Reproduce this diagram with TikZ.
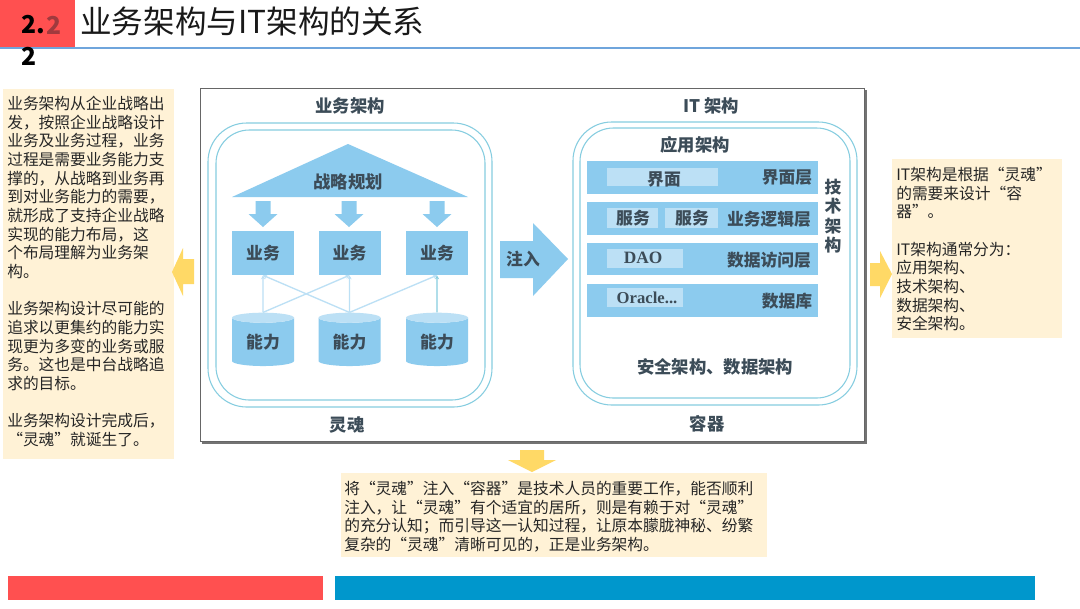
\documentclass[tikz,border=0pt]{standalone}
\usepackage{fontspec}
\setmainfont{Noto Sans CJK SC}
\newfontfamily\serifl{Liberation Serif}
\usetikzlibrary{shapes.geometric,arrows.meta}
\definecolor{noteyl}{HTML}{FFF2D6}
\definecolor{arrowyl}{HTML}{FFD966}
\definecolor{redbar}{HTML}{FF5050}
\definecolor{bluebar}{HTML}{0097CC}
\definecolor{rulec}{HTML}{6FA5DC}
\definecolor{skyf}{HTML}{8CCBEE}
\definecolor{skyl}{HTML}{BCE0F5}
\definecolor{skyd}{HTML}{86CDE0}
\definecolor{txtd}{HTML}{3C4C58}
\definecolor{notetxt}{HTML}{262626}
\definecolor{fadedtwo}{HTML}{A03A3E}
\tikzset{
 x=0.75pt,y=-0.75pt,
 notetext/.style={anchor=north west,inner sep=0pt,font=\fontsize{11.8}{14}\selectfont,align=left,text=notetxt},
 bluebox/.style={fill=skyf,draw=none,minimum width=46.5pt,minimum height=33pt,inner sep=0pt,imglabel},
 cyl/.style={cylinder,shape border rotate=90,aspect=0.3,cylinder uses custom fill,cylinder body fill=skyf,cylinder end fill=skyl,draw=none,minimum width=46.5pt,minimum height=40pt,inner sep=0pt,imglabel},
 layerbar/.style={fill=skyf,draw=none},
 sublayer/.style={fill=skyl,draw=none},
 imglabel/.style={font=\fontsize{12.6}{14}\selectfont\bfseries,text=txtd,inner sep=0pt},
 shell/.style={draw=skyd,line width=0.8pt,fill=none},
 thinlink/.style={draw=skyl,line width=1pt,-{Stealth[length=3pt,width=3pt]}},
 darklink/.style={draw=skyd,line width=1pt,-{Stealth[length=3pt,width=3pt]}},
 block/.style={fill=skyf,draw=none},
 yellowarrow/.style={fill=arrowyl,draw=none},
 hdr/.style={inner sep=0pt,font=\fontsize{18.5}{20}\selectfont\bfseries},
}
\begin{document}
\begin{tikzpicture}
\useasboundingbox (0,0) rectangle (1080,608);
\fill[white] (0,0) rectangle (1080,608);
% header
\fill[redbar] (0,0) rectangle (75,47);
\draw[rulec,line width=1.8pt] (0,48) -- (1080,48);
\node[hdr,text=fadedtwo] (h2) at (54,25) {2};
\node[hdr,text=black] (h1) at (33,25) {2.};
\node[hdr,text=black] (h3) at (29,56) {2};
\node[inner sep=0pt,anchor=west,text=black!90,font=\fontsize{23.7}{26}\selectfont] (title) at (80,21) {业务架构与IT架构的关系};
% left note
\fill[noteyl] (3,89) rectangle (174,459);
\node[notetext] (leftnote) at (7,96) {业务架构从企业战略出\\发，按照企业战略设计\\业务及业务过程，业务\\过程是需要业务能力支\\撑的，从战略到业务再\\到对业务能力的需要，\\就形成了支持企业战略\\实现的能力布局，这\\个布局理解为业务架\\构。\\[14pt]业务架构设计尽可能的\\追求以更集约的能力实\\现更为多变的业务或服\\务。这也是中台战略追\\求的目标。\\[14pt]业务架构设计完成后，\\“灵魂”就诞生了。};
% left yellow arrow
\fill[yellowarrow] (172,272) -- (183,248) -- (183,259) -- (194,259) -- (194,284) -- (183,284) -- (183,296) -- cycle;
% image frame
\fill[black!55] (202,90) rectangle (867,444);
\fill[white] (200,88) rectangle (864,441);
\draw[black!60,line width=0.7pt] (200,88) rectangle (864,441);
% left shell
\draw[shell,rounded corners=29pt] (208,123) rectangle (492,407);
\draw[shell,rounded corners=25pt] (216,130) rectangle (485,400);
\node[imglabel,font=\fontsize{13}{15}\selectfont\bfseries] (bizarch) at (350,106) {业务架构};
\node[imglabel,font=\fontsize{13}{15}\selectfont\bfseries] (soul) at (347,425) {灵魂};
% triangle
\fill[block] (348,144) -- (468,197) -- (232,197) -- cycle;
\node[imglabel,font=\fontsize{13}{15}\selectfont\bfseries] (strategy) at (348,182) {战略规划};
% down arrows
\foreach \ax in {263,349,437}{
 \fill[block] (\ax-7.5,201) -- (\ax+7.5,201) -- (\ax+7.5,214) -- (\ax+14.5,214) -- (\ax,227) -- (\ax-14.5,214) -- (\ax-7.5,214) -- cycle;
}
% business boxes
\node[bluebox] (b1) at (263,253) {业务};
\node[bluebox] (b2) at (349.5,253) {业务};
\node[bluebox] (b3) at (437,253) {业务};
% capability cylinders
\node[cyl] (c1) at (263,342) {能力};
\node[cyl] (c2) at (349.5,342) {能力};
\node[cyl] (c3) at (437,342) {能力};
% links
\draw[thinlink] (c1.north) -- (b1.south);
\draw[thinlink] (c2.north) -- (b2.south);
\draw[thinlink] (c2.north) -- (b1.south);
\draw[thinlink] (c1.north) -- (b2.south);
\draw[thinlink] (c2.north) -- (b3.south);
\draw[darklink] (c3.north) -- (b3.south);
% inject arrow
\fill[block] (500,241) -- (533,241) -- (533,223) -- (568,259) -- (533,296) -- (533,278) -- (500,278) -- cycle;
\node[imglabel] (inject) at (523,259) {注入};
% right shell
\draw[shell,rounded corners=29pt] (573,122) rectangle (857,405);
\draw[shell,rounded corners=25pt] (580,128) rectangle (850,398);
\node[imglabel,font=\fontsize{13}{15}\selectfont\bfseries] (itarch) at (711,106) {IT 架构};
\node[imglabel,font=\fontsize{13}{15}\selectfont\bfseries] (apparch) at (695,145) {应用架构};
% layers
\fill[layerbar] (587,161) rectangle (818,194);
\fill[layerbar] (587,202) rectangle (818,235);
\fill[layerbar] (587,243) rectangle (818,275);
\fill[layerbar] (587,284) rectangle (818,317);
\fill[sublayer] (607,168) rectangle (718,186);
\fill[sublayer] (607,208) rectangle (658,228);
\fill[sublayer] (665,208) rectangle (718,228);
\fill[sublayer] (607,249) rectangle (683,268);
\fill[sublayer] (607,288) rectangle (683,307);
\node[imglabel] (ui) at (664,179) {界面};
\node[imglabel] (svc1) at (633,218) {服务};
\node[imglabel] (svc2) at (692,218) {服务};
\node[imglabel,font=\fontsize{13}{15}\selectfont\bfseries\serifl] (dao) at (643,258) {DAO};
\node[imglabel,font=\fontsize{12.5}{15}\selectfont\bfseries\serifl] (oracle) at (647,298) {Oracle...};
\node[imglabel] (uil) at (787,178) {界面层};
\node[imglabel] (bizl) at (769,219) {业务逻辑层};
\node[imglabel] (dal) at (769,260) {数据访问层};
\node[imglabel] (dbl) at (787,301) {数据库};
\node[imglabel,align=center,font=\fontsize{12.6}{14.5}\selectfont\bfseries] (tech) at (833,216) {技\\术\\架\\构};
\node[imglabel,font=\fontsize{13}{15}\selectfont\bfseries] (sec) at (715,367) {安全架构、数据架构};
\node[imglabel,font=\fontsize{13}{15}\selectfont\bfseries] (container) at (707,424) {容器};
% right yellow arrow + note
\fill[noteyl] (892,159) rectangle (1062,338);
\fill[yellowarrow] (892,274) -- (880,251) -- (880,263) -- (870,263) -- (870,286) -- (880,286) -- (880,298) -- cycle;
\node[notetext] (rightnote) at (896,167) {IT架构是根据“灵魂”\\的需要来设计“容\\器”。\\[14pt]IT架构通常分为：\\应用架构、\\技术架构、\\数据架构、\\安全架构。};
% bottom arrow + note
\fill[yellowarrow] (520,450) -- (544,450) -- (544,460) -- (556,460) -- (532,472) -- (508,460) -- (520,460) -- cycle;
\fill[noteyl] (341,473) rectangle (767,557);
\node[notetext,font=\fontsize{11.8}{14.2}\selectfont] (bottomnote) at (344,480.5) {将“灵魂”注入“容器”是技术人员的重要工作，能否顺利\\注入，让“灵魂”有个适宜的居所，则是有赖于对“灵魂”\\的充分认知；而引导这一认知过程，让原本朦胧神秘、纷繁\\复杂的“灵魂”清晰可见的，正是业务架构。};
% bottom bars
\fill[redbar] (8,576) rectangle (323,600);
\fill[bluebar] (335,576) rectangle (1035,600);
\end{tikzpicture}
\end{document}
